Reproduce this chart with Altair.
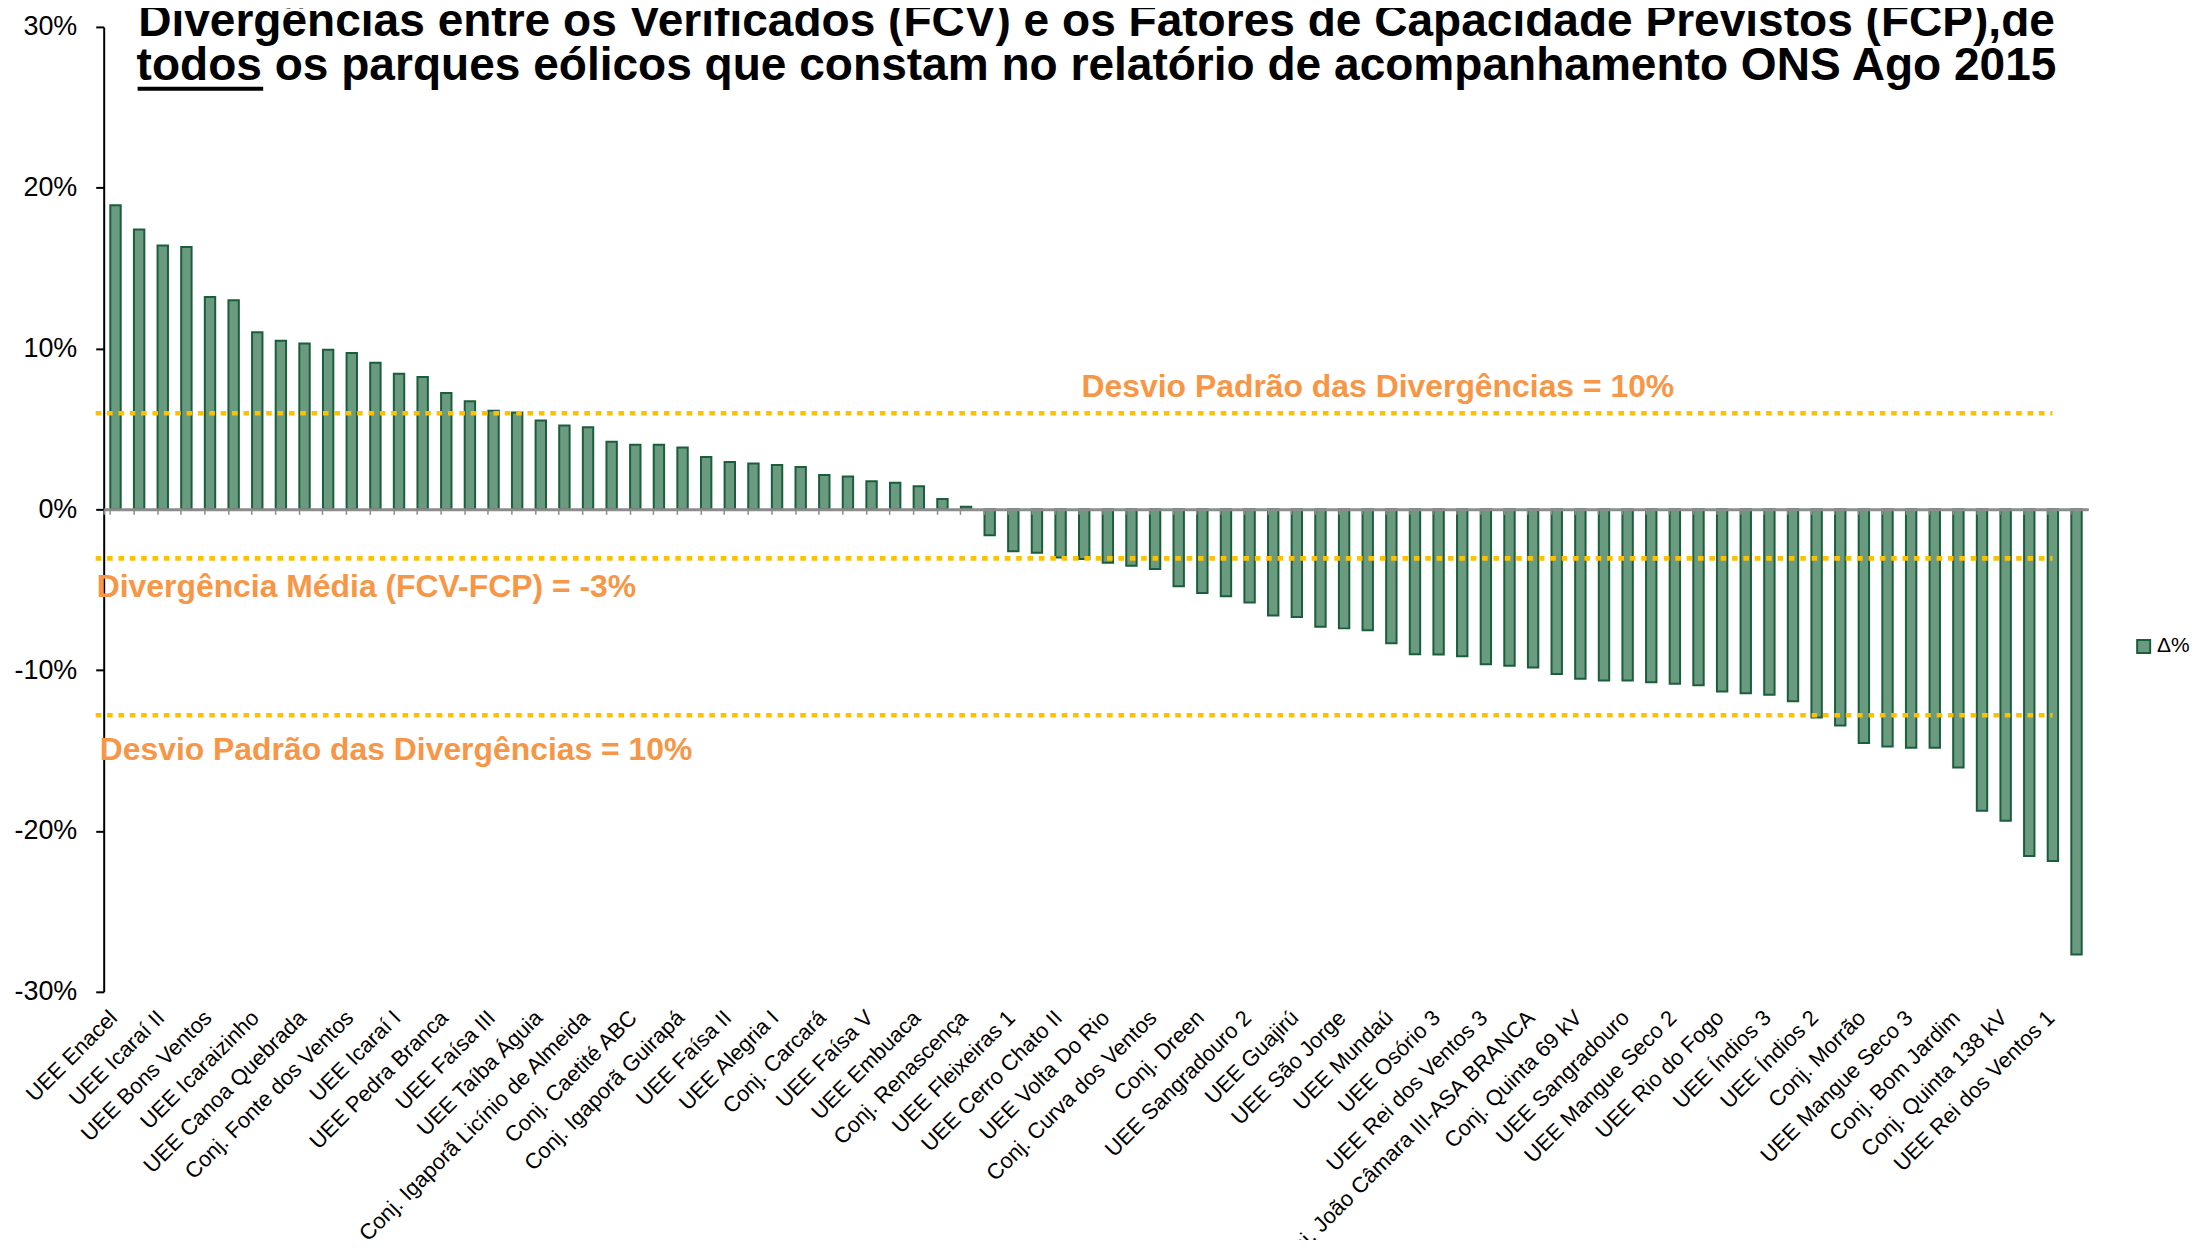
import json
import altair as alt
import pandas as pd

# ---------------- data ----------------
titulo_1 = "Divergências entre os Verificados (FCV) e os Fatores de Capacidade Previstos (FCP),de"
titulo_2 = "todos os parques eólicos que constam no relatório de acompanhamento ONS Ago 2015"

# category labels (Excel shows every other category)
parques = [
    "UEE Enacel", "UEE Icaraí II", "UEE Bons Ventos", "UEE Icaraizinho",
    "UEE Canoa Quebrada", "Conj. Fonte dos Ventos", "UEE Icaraí I", "UEE Pedra Branca",
    "UEE Faísa III", "UEE Taíba Águia", "Conj. Igaporã Licínio de Almeida", "Conj. Caetité ABC",
    "Conj. Igaporã Guirapá", "UEE Faísa II", "UEE Alegria I", "Conj. Carcará",
    "UEE Faísa V", "UEE Embuaca", "Conj. Renascença", "UEE Fleixeiras 1",
    "UEE Cerro Chato II", "UEE Volta Do Rio", "Conj. Curva dos Ventos", "Conj. Dreen",
    "UEE Sangradouro 2", "UEE Guajirú", "UEE São Jorge", "UEE Mundaú",
    "UEE Osório 3", "UEE Rei dos Ventos 3", "Conj. João Câmara III-ASA BRANCA", "Conj. Quinta 69 kV",
    "UEE Sangradouro", "UEE Mangue Seco 2", "UEE Rio do Fogo", "UEE Índios 3",
    "UEE Índios 2", "Conj. Morrão", "UEE Mangue Seco 3", "Conj. Bom Jardim",
    "Conj. Quinta  138 kV", "UEE Rei dos Ventos 1",
]

# divergence FCV-FCP (%) for each of the 84 parks, in chart order
delta = [
    18.91, 17.40, 16.41, 16.31, 13.20, 13.01, 11.01, 10.49, 10.31, 9.92,
    9.73, 9.11, 8.43, 8.23, 7.24, 6.72, 6.14, 6.02, 5.53, 5.22,
    5.11, 4.21, 4.02, 4.02, 3.84, 3.25, 2.94, 2.85, 2.76, 2.64,
    2.14, 2.04, 1.75, 1.65, 1.44, 0.64, 0.16, -1.61, -2.60, -2.70,
    -2.99, -3.09, -3.32, -3.51, -3.71, -4.78, -5.20, -5.40, -5.79, -6.60,
    -6.70, -7.30, -7.40, -7.51, -8.32, -9.01, -9.03, -9.13, -9.63, -9.73,
    -9.83, -10.23, -10.54, -10.64, -10.64, -10.75, -10.85, -10.93, -11.33, -11.43,
    -11.53, -11.93, -12.94, -13.44, -14.53, -14.74, -14.82, -14.82, -16.05, -18.74,
    -19.36, -21.55, -21.86, -27.68,
]

serie = "Δ%"
linhas_ref = [5.98, -3.05, -12.8]          # +1 desvio, média, -1 desvio
texto_desvio = "Desvio Padrão das Divergências = 10%"
texto_media = "Divergência Média (FCV-FCP) = -3%"
y_ticks = [-30, -20, -10, 0, 10, 20, 30]

# ---------------- styling ----------------
W, H = 1991, 968
FILL = "#6A9A7F"
STROKE = "#1B5E3B"
ORANGE = "#F79646"
GOLD = "#FFC000"
FONT = "Liberation Sans"

df = pd.DataFrame({"idx": list(range(len(delta))), "delta": delta, "serie": [serie] * len(delta)})

label_expr = ("datum.value % 2 == 0 ? " + json.dumps(parques, ensure_ascii=False)
              + "[datum.value / 2] : ''")

x_scale = alt.Scale(paddingInner=0.56, paddingOuter=0.28)
y_scale = alt.Scale(domain=[-30, 30], nice=False, zero=False)

bars = alt.Chart(df).mark_bar(stroke=STROKE, strokeWidth=2).encode(
    x=alt.X("idx:O", scale=x_scale,
            axis=alt.Axis(orient="bottom", title=None, domain=False, ticks=False, tickSize=0,
                          labelAngle=-45, labelAlign="right", labelBaseline="top",
                          labelPadding=15, labelOffset=-9, labelFontSize=22, labelColor="black",
                          labelFont=FONT, labelLimit=800, labelOverlap=False,
                          labelExpr=label_expr)),
    y=alt.Y("delta:Q", scale=y_scale,
            axis=alt.Axis(title=None, values=y_ticks, labelExpr="datum.value + '%'", grid=False,
                          domainColor="black", domainWidth=2, tickColor="black", tickWidth=2,
                          tickSize=8, labelPadding=19, labelFontSize=27, labelColor="black",
                          labelFont=FONT)),
    color=alt.Color("serie:N", scale=alt.Scale(domain=[serie], range=[FILL]),
                    legend=alt.Legend(title=None, orient="none", legendX=2036, legendY=611,
                                      symbolType="square", symbolSize=170,
                                      symbolStrokeColor=STROKE, symbolStrokeWidth=2,
                                      symbolOpacity=1, symbolFillColor=FILL,
                                      labelFontSize=21, labelFont=FONT, labelColor="black",
                                      padding=0, labelOffset=3, labelLimit=200)),
)

zero_axis = alt.Chart(df).mark_point(opacity=0).encode(
    x=alt.X("idx:O", scale=x_scale,
            axis=alt.Axis(orient="bottom", offset=-H / 2, title=None, labels=False,
                          domain=True, domainColor="#8C8C8C", domainWidth=3,
                          ticks=True, tickColor="#8C8C8C", tickWidth=1.5, tickSize=5,
                          bandPosition=0, tickExtra=True, zindex=1)),
    y=alt.value(0),
)

ref_df = pd.DataFrame({"y": linhas_ref})
ref_lines = alt.Chart(ref_df).mark_rule(color=GOLD, strokeWidth=4.6, strokeDash=[5.6, 5.8],
                                        strokeCap="butt").encode(
    y=alt.Y("y:Q", scale=y_scale),
    x=alt.value(-8), x2=alt.value(1955),
)

def annot(text, yval, xpx, dy):
    return alt.Chart(pd.DataFrame({"t": [text]})).mark_text(
        fontSize=32, fontWeight="bold", color=ORANGE, font=FONT, align="left",
        baseline="alphabetic", dy=dy,
    ).encode(x=alt.value(xpx), y=alt.datum(yval), text="t:N")

a_up = annot(texto_desvio, linhas_ref[0], 981, -16)
a_mean = annot(texto_media, linhas_ref[1], -7, 39)
a_low = annot(texto_desvio, linhas_ref[2], -4, 45)

def title_line(text, ypx):
    return alt.Chart(pd.DataFrame({"t": [text]})).mark_text(
        fontSize=46.2, fontWeight="bold", color="black", font=FONT, align="center",
        baseline="alphabetic",
    ).encode(x=alt.value(996), y=alt.value(ypx), text="t:N")

t1 = title_line(titulo_1, 9)
t2 = title_line(titulo_2, 53)
underline = alt.Chart(pd.DataFrame({"u": [0]})).mark_rule(color="black", strokeWidth=4).encode(
    x=alt.value(34), x2=alt.value(160), y=alt.value(62)
)

chart = alt.layer(bars, zero_axis, ref_lines, a_up, a_mean, a_low, t1, t2, underline).resolve_axis(
    x="independent"
).properties(
    width=W, height=H,
    autosize=alt.AutoSizeParams(type="none"),
    padding={"left": 96, "top": 17, "right": 105, "bottom": 247},
    background="white",
).configure(font=FONT).configure_view(stroke=None, strokeWidth=0)

chart.save("out.html", embed_options={"renderer": "svg", "actions": False})
